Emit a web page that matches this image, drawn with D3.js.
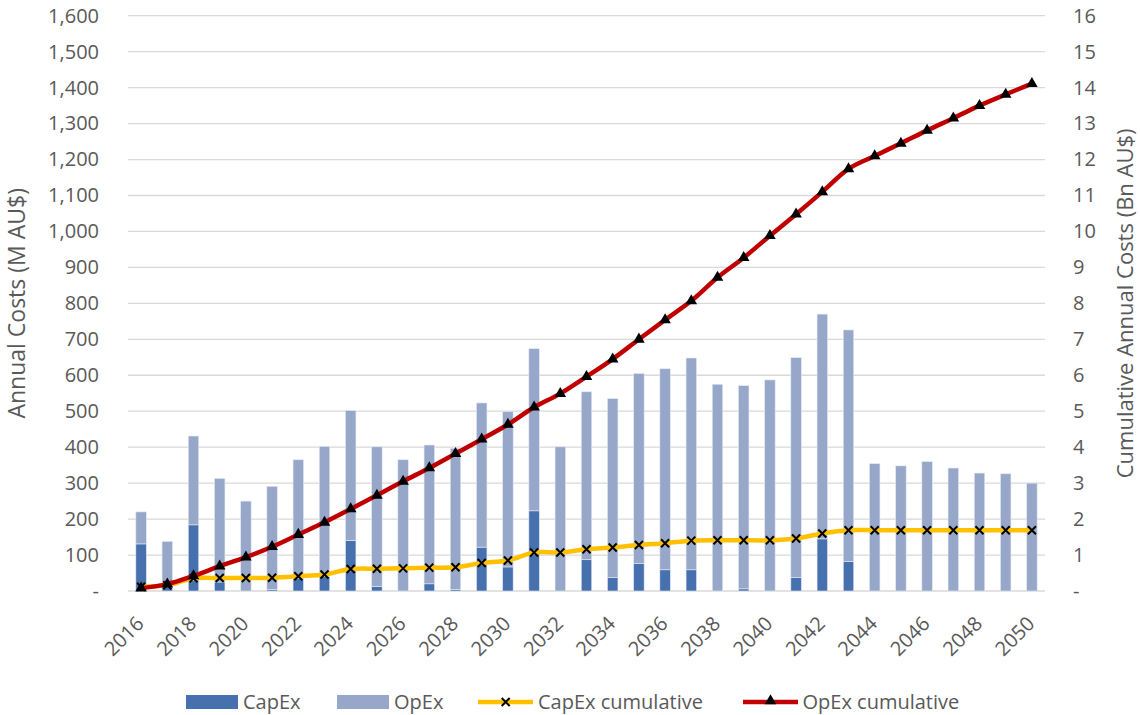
<!DOCTYPE html>
<html>
<head>
<meta charset="utf-8">
<script src="https://cdn.jsdelivr.net/npm/d3@7"></script>
<style>
  body { margin: 0; background: #fff; }
  text { font-family: "Open Sans", sans-serif; fill: #595959; }
</style>
</head>
<body>
<svg width="1140" height="715"></svg>
<script>
var years = [2016, 2017, 2018, 2019, 2020, 2021, 2022, 2023, 2024, 2025,
             2026, 2027, 2028, 2029, 2030, 2031, 2032, 2033, 2034, 2035,
             2036, 2037, 2038, 2039, 2040, 2041, 2042, 2043, 2044, 2045,
             2046, 2047, 2048, 2049, 2050];

// annual costs, M AU$
var capex = [131, 25, 184, 25, 0, 4, 35, 40, 141, 13,
             0, 20, 4, 122, 67, 223, 0, 87, 37, 76,
             59, 59, 0, 6, 0, 37, 145, 82, 0, 0,
             0, 0, 0, 0, 0];
var opex = [89, 113, 247, 288, 250, 287, 330, 362, 361, 388,
            365, 386, 393, 401, 432, 451, 401, 467, 498, 529,
            559, 589, 575, 565, 587, 612, 625, 644, 354, 348,
            360, 342, 328, 326, 300];

// cumulative, Bn AU$
var capexCum = [0.12, 0.16, 0.35, 0.36, 0.36, 0.37, 0.41, 0.46, 0.61, 0.62,
                0.63, 0.65, 0.66, 0.78, 0.85, 1.07, 1.07, 1.16, 1.21, 1.28,
                1.33, 1.40, 1.41, 1.41, 1.41, 1.46, 1.60, 1.69, 1.69, 1.69,
                1.69, 1.69, 1.69, 1.69, 1.69];
var opexCum = [0.08, 0.19, 0.42, 0.69, 0.94, 1.23, 1.57, 1.91, 2.28, 2.66,
               3.05, 3.42, 3.82, 4.22, 4.63, 5.11, 5.49, 5.96, 6.45, 7.00,
               7.54, 8.07, 8.72, 9.27, 9.88, 10.48, 11.10, 11.74, 12.10, 12.45,
               12.81, 13.15, 13.50, 13.81, 14.11];

var leftTicks = [0, 100, 200, 300, 400, 500, 600, 700, 800, 900, 1000, 1100, 1200, 1300, 1400, 1500, 1600];
var rightTicks = [0, 1, 2, 3, 4, 5, 6, 7, 8, 9, 10, 11, 12, 13, 14, 15, 16];
var labelYears = [2016, 2018, 2020, 2022, 2024, 2026, 2028, 2030, 2032, 2034,
                  2036, 2038, 2040, 2042, 2044, 2046, 2048, 2050];

var svg = d3.select("svg");
var plot = { left: 128, right: 1045, top: 15.7, bottom: 591 };

var x = d3.scaleBand().domain(years).range([plot.left, plot.right]).paddingInner(0.6).paddingOuter(0.3);
var y = d3.scaleLinear().domain([0, 1600]).range([plot.bottom, plot.top]);
var y2 = d3.scaleLinear().domain([0, 16]).range([plot.bottom, plot.top]);
var cx = function(d) { return x(d) + x.bandwidth() / 2; };

var fmt = d3.format(",d");

// gridlines
svg.append("g").selectAll("line").data(leftTicks).enter().append("line")
  .attr("x1", plot.left).attr("x2", plot.right)
  .attr("y1", function(d) { return y(d); }).attr("y2", function(d) { return y(d); })
  .attr("stroke", "#d9d9d9").attr("stroke-width", 1.3);

// left axis
var yAxis = d3.axisLeft(y).tickValues(leftTicks).tickSize(0).tickPadding(0)
  .tickFormat(function(d) { return d === 0 ? "-" : fmt(d); });
var gy = svg.append("g").attr("transform", "translate(99,0)").call(yAxis);
gy.select(".domain").remove();
gy.selectAll("text").style("font-size", "20px").attr("fill", "#595959").style("font-family", "Open Sans");

// right axis
var y2Axis = d3.axisRight(y2).tickValues(rightTicks).tickSize(0).tickPadding(0)
  .tickFormat(function(d) { return d === 0 ? "-" : d; });
var gy2 = svg.append("g").attr("transform", "translate(1073,0)").call(y2Axis);
gy2.select(".domain").remove();
gy2.selectAll("text").style("font-size", "20px").attr("fill", "#595959").style("font-family", "Open Sans");

// x labels
svg.append("g").selectAll("text").data(labelYears).enter().append("text")
  .attr("transform", function(d) { return "translate(" + (cx(d) + 4) + ",625) rotate(-45)"; })
  .attr("text-anchor", "end")
  .style("font-size", "20px")
  .text(function(d) { return d; });

// axis titles
svg.append("text")
  .attr("transform", "translate(17," + ((plot.top + plot.bottom) / 2) + ") rotate(-90)")
  .attr("text-anchor", "middle").attr("dy", "0.35em")
  .style("font-size", "23px")
  .text("Annual Costs (M AU$)");
svg.append("text")
  .attr("transform", "translate(1125," + ((plot.top + plot.bottom) / 2) + ") rotate(-90)")
  .attr("text-anchor", "middle").attr("dy", "0.35em")
  .style("font-size", "22px")
  .text("Cumulative Annual Costs (Bn AU$)");

// stacked bars
var rows = years.map(function(d, i) { return { year: d, capex: capex[i], opex: opex[i] }; });
var stack = d3.stack().keys(["capex", "opex"])(rows);
var barColor = { capex: "#4770ae", opex: "#97a7c9" };

svg.append("g").selectAll("g").data(stack).enter().append("g")
  .attr("fill", function(s) { return barColor[s.key]; })
  .selectAll("rect").data(function(s) { return s; }).enter().append("rect")
  .attr("x", function(d) { return x(d.data.year); })
  .attr("width", x.bandwidth())
  .attr("y", function(d) { return y(d[1]); })
  .attr("height", function(d) { return y(d[0]) - y(d[1]); })
  .attr("stroke", "#e4e9f2").attr("stroke-width", 0.6);

// lines
var capexPts = years.map(function(d, i) { return [cx(d), y2(capexCum[i])]; });
var opexPts = years.map(function(d, i) { return [cx(d), y2(opexCum[i])]; });
var line = d3.line().curve(d3.curveCatmullRom.alpha(0.5));

svg.append("path").attr("d", line(capexPts))
  .attr("fill", "none").attr("stroke", "#ffc000").attr("stroke-width", 4.5).attr("stroke-linejoin", "round");

function cross(g, p, s) {
  g.append("path")
    .attr("d", "M" + (p[0] - s) + "," + (p[1] - s) + "L" + (p[0] + s) + "," + (p[1] + s) +
               "M" + (p[0] - s) + "," + (p[1] + s) + "L" + (p[0] + s) + "," + (p[1] - s))
    .attr("stroke", "#000").attr("stroke-width", 2).attr("fill", "none");
}
var gx = svg.append("g");
capexPts.forEach(function(p) { cross(gx, p, 4); });

svg.append("path").attr("d", line(opexPts))
  .attr("fill", "none").attr("stroke", "#c00000").attr("stroke-width", 4.5).attr("stroke-linejoin", "round");

var tri = d3.symbol().type(d3.symbolTriangle).size(58);
svg.append("g").selectAll("path").data(opexPts).enter().append("path")
  .attr("transform", function(p) { return "translate(" + p[0] + "," + p[1] + ")"; })
  .attr("d", tri).attr("fill", "#000");

// legend
var lg = svg.append("g");
lg.append("rect").attr("x", 186).attr("y", 695).attr("width", 52).attr("height", 14).attr("fill", barColor.capex);
lg.append("text").attr("x", 243).attr("y", 702).attr("dy", "0.35em").style("font-size", "20px").text("CapEx");
lg.append("rect").attr("x", 337).attr("y", 695).attr("width", 52).attr("height", 14).attr("fill", barColor.opex);
lg.append("text").attr("x", 394).attr("y", 702).attr("dy", "0.35em").style("font-size", "20px").text("OpEx");
lg.append("line").attr("x1", 478).attr("x2", 533).attr("y1", 702).attr("y2", 702)
  .attr("stroke", "#ffc000").attr("stroke-width", 4.5);
cross(lg, [505.7, 702], 4);
lg.append("text").attr("x", 538).attr("y", 702).attr("dy", "0.35em").style("font-size", "20px").text("CapEx cumulative");
lg.append("line").attr("x1", 743).attr("x2", 798).attr("y1", 702).attr("y2", 702)
  .attr("stroke", "#c00000").attr("stroke-width", 4.5);
lg.append("path").attr("transform", "translate(770.5,701)").attr("d", tri).attr("fill", "#000");
lg.append("text").attr("x", 802.5).attr("y", 702).attr("dy", "0.35em").style("font-size", "20px").text("OpEx cumulative");
</script>
</body>
</html>
